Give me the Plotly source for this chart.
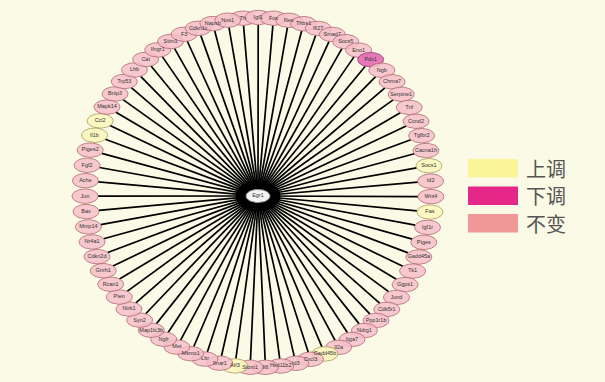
import numpy as np
import plotly.graph_objects as go

# Egr1 and its connected genes, listed clockwise starting at the top of the ring
hub = "Egr1"
genes = [
    "Th", "Igf1", "Fos", "Nes", "Thbs1", "Ifi27", "Smad7", "Socs5", "Eno1", "Pdx1",
    "Ngb", "Chrna7", "Serpine1", "Tnf", "Ccnd2", "Tgfbr2", "Cacna1h", "Socs1", "Id2", "Wnt4",
    "Fas", "Igf1r", "Ptges", "Gadd45a", "Tk1", "Ggps1", "Jund", "Cdk5r1", "Ppp1r1b", "Ndrg1",
    "Itga7", "Il2a", "Gadd45b", "Cxcl3", "Id3", "Hsd11b2", "Il6", "Stom1", "Atf3", "Ifnar1",
    "Lbr", "Msmo1", "Met", "Ngfr", "Map1lc3b", "Syn2", "Ntrk1", "Pten", "Rcan1", "Gnrh1",
    "Cdkn2d", "Nr4a1", "Mmp14", "Bax", "Jun", "Ache", "Fgf2", "Ptges2", "Il1b", "Ccl2",
    "Mapk14", "Bnip3", "Trp53", "Lhb", "Cat", "Ifngr1", "Stim1", "F3", "Cdkn1c", "Napsb",
    "Nos1",
]
up_genes = ["Socs1", "Fas", "Gadd45b", "Atf3", "Il1b", "Ccl2"]
down_genes = ["Pdx1"]

legend_labels = ["上调", "下调", "不变"]
legend_colors = ["#fbf59a", "#e6278a", "#f09898"]

# node styling per regulation state
node_fill = {"up": "rgba(251,246,190,0.92)", "down": "rgba(226,110,180,0.92)", "same": "rgba(246,190,200,0.85)"}
node_line = {"up": "#a89a60", "down": "#a0306a", "same": "#b06874"}

W, H = 605, 382
bg = "#fafae6"
cx, cy = 258.0, 192.5      # ring centre
rx, ry = 173.0, 175.0      # ring radii
hx, hy = 258.0, 196.0      # hub position
na, nb = 13.0, 7.2         # node ellipse semi-axes
start = np.deg2rad(95.0)

n = len(genes)
ang = start - np.arange(n) * 2 * np.pi / n
px = cx + rx * np.cos(ang)
py = cy - ry * np.sin(ang)


def state(g):
    if g in up_genes:
        return "up"
    if g in down_genes:
        return "down"
    return "same"


def ellipse(x0, y0, a, b, m=48):
    t = np.linspace(0, 2 * np.pi, m)
    return list(x0 + a * np.cos(t)), list(y0 + b * np.sin(t))


fig = go.Figure()

# edges: hub to the border of each gene node
ex, ey = [], []
for x, y in zip(px, py):
    dx, dy = x - hx, y - hy
    d = np.hypot(dx, dy)
    ux, uy = dx / d, dy / d
    t = 1.0 / np.sqrt((ux / na) ** 2 + (uy / nb) ** 2)
    ex += [hx, x - t * ux, None]
    ey += [hy, y - t * uy, None]
fig.add_trace(go.Scatter(x=ex, y=ey, mode="lines", line=dict(color="black", width=1.7),
                         hoverinfo="skip", showlegend=False))

# hub node with its dark halo
hxs, hys = ellipse(hx, hy, 22, 15)
fig.add_trace(go.Scatter(x=hxs, y=hys, mode="lines", fill="toself", fillcolor="black",
                         line=dict(color="black", width=1), hoverinfo="skip", showlegend=False))
hxs, hys = ellipse(hx, hy, 12, 6.5)
fig.add_trace(go.Scatter(x=hxs, y=hys, mode="lines", fill="toself", fillcolor="#f4f4f4",
                         line=dict(color="#999999", width=1), hoverinfo="skip", showlegend=False))

# gene nodes
for g, x, y in zip(genes, px, py):
    s = state(g)
    xs, ys = ellipse(x, y, na, nb)
    fig.add_trace(go.Scatter(x=xs, y=ys, mode="lines", fill="toself", fillcolor=node_fill[s],
                             line=dict(color=node_line[s], width=0.8), hoverinfo="skip",
                             showlegend=False))

# labels
fig.add_trace(go.Scatter(x=list(px) + [hx], y=list(py) + [hy], mode="text",
                         text=genes + [hub], textposition="middle center",
                         textfont=dict(family="Liberation Sans, Arial", size=5.5, color="#333333"),
                         hoverinfo="text", showlegend=False))

# legend boxes and captions
lx0, lx1, ly0, lstep, lh = 468, 518, 159, 27.5, 18.5
for i, (lab, col) in enumerate(zip(legend_labels, legend_colors)):
    y0 = ly0 + i * lstep
    fig.add_shape(type="rect", xref="x", yref="y", x0=lx0, x1=lx1, y0=y0, y1=y0 + lh,
                  fillcolor=col, line=dict(width=0), layer="above")
    fig.add_annotation(x=lx1 + 6, y=y0 + lh / 2, xref="x", yref="y", text=lab, showarrow=False,
                       xanchor="left", yanchor="middle",
                       font=dict(family="Noto Sans CJK SC", size=20, color="#555555"))

fig.update_xaxes(range=[0, W], visible=False, fixedrange=True)
fig.update_yaxes(range=[H, 0], visible=False, fixedrange=True)
fig.update_layout(width=W, height=H, margin=dict(l=0, r=0, t=0, b=0),
                  paper_bgcolor=bg, plot_bgcolor=bg, showlegend=False)

fig.write_html("out.html")
